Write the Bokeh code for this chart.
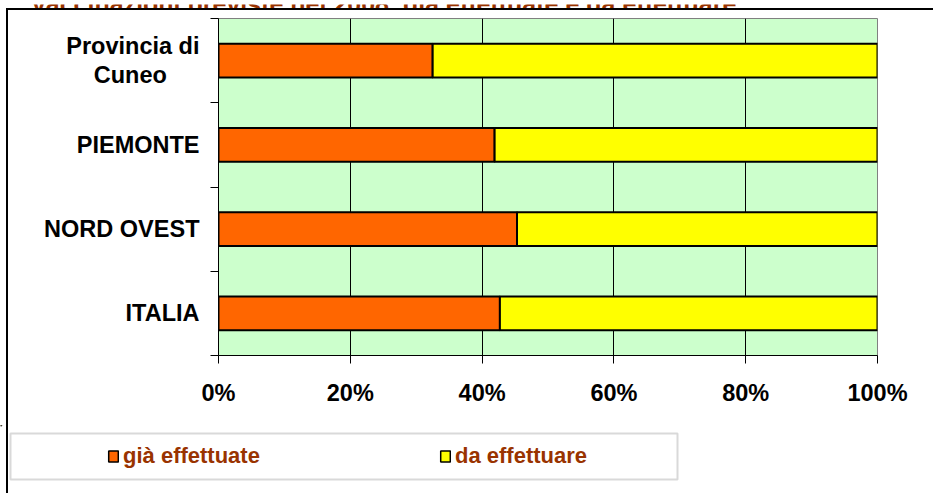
from bokeh.plotting import figure
from bokeh.layouts import column
from bokeh.models import (Range1d, FixedTicker, PrintfTickFormatter, ColumnDataSource,
                          Legend, LegendItem, Label, BoxAnnotation)
from bokeh.embed import file_html
from bokeh.resources import INLINE

# ---- data (bottom to top) ----
categories = ["ITALIA", "NORD OVEST", "PIEMONTE", "Provincia di\nCuneo"]
gia_effettuate = [42.7, 45.3, 41.9, 32.5]
da_effettuare = [57.3, 54.7, 58.1, 67.5]
series_names = ["già effettuate", "da effettuare"]
x_ticks = [0, 20, 40, 60, 80, 100]
title_text = "Vaccinazioni previste nel 2008, già effettuate e da effettuare"

FONT = "Liberation Sans"
ORANGE = "#FF6600"
YELLOW = "#FFFF00"
BROWN = "#993300"
NB = "\u00a0"
W = 933
LINE_BG = "linear-gradient(#000,#000) 6px 0px / 2px 100% no-repeat"

# ---------- title strip (cut off at the top, as in the reference) ----------
p0 = figure(width=W, height=8, x_range=Range1d(0, W), y_range=Range1d(8, 0),
            output_backend="svg", toolbar_location=None,
            x_axis_location=None, y_axis_location=None,
            min_border=0, outline_line_color=None,
            background_fill_alpha=0, border_fill_alpha=0)
p0.frame_align = False
p0.grid.visible = False
p0.add_layout(Label(x=30, y=-1, text=title_text,
                    text_font=FONT, text_font_style="bold", text_font_size="25px",
                    text_color=BROWN, text_baseline="alphabetic", text_align="left"))

# ---------- main chart ----------
ypos = list(range(len(categories)))
source = ColumnDataSource(dict(y=ypos, gia=gia_effettuate, da=da_effettuare))

p = figure(width=W, height=417,
           x_range=Range1d(0, 100), y_range=Range1d(-0.5, len(categories) - 0.5),
           output_backend="svg", toolbar_location=None,
           min_border_left=218, min_border_right=56,
           min_border_top=10, min_border_bottom=70,
           background_fill_color="#CCFFCC", border_fill_alpha=0,
           outline_line_color="#808080", outline_line_width=1)
p.frame_align = False
p.styles = {"background": LINE_BG + ", linear-gradient(#000,#000) 6px 0px / 100% 2px no-repeat, #fff"}

rs = p.hbar_stack(["gia", "da"], y="y", height=0.4, source=source,
                  color=[ORANGE, YELLOW], line_color="black", line_width=2)

xa = p.xaxis[0]
xa.ticker = FixedTicker(ticks=x_ticks)
xa.formatter = PrintfTickFormatter(format="%d%%")
xa.axis_line_color = "black"
xa.major_tick_line_color = "black"
xa.major_tick_out = 8
xa.major_tick_in = 0
xa.minor_tick_line_color = None
xa.major_label_text_font = FONT
xa.major_label_text_font_style = "bold"
xa.major_label_text_font_size = "23.5px"
xa.major_label_text_color = "black"
xa.major_label_standoff = 16

ya = p.yaxis[0]
ya.ticker = FixedTicker(ticks=ypos, minor_ticks=[i - 0.5 for i in range(len(categories) + 1)])
overrides = {}
for i, c in enumerate(categories):
    if "\n" in c:
        a, b = c.split("\n")
        overrides[i] = a + "\n" + b + NB * 5
    else:
        overrides[i] = c
ya.major_label_overrides = overrides
ya.axis_line_color = "black"
ya.major_tick_line_color = None
ya.minor_tick_line_color = "black"
ya.minor_tick_out = 8
ya.minor_tick_in = 0
ya.major_label_text_font = FONT
ya.major_label_text_font_style = "bold"
ya.major_label_text_font_size = "23.5px"
ya.major_label_text_color = "black"
ya.major_label_text_line_height = 1.12
ya.major_label_standoff = 11

p.xgrid.ticker = FixedTicker(ticks=[20, 40, 60, 80])
p.xgrid.grid_line_color = "black"
p.xgrid.grid_line_width = 1
p.ygrid.grid_line_color = None

# ---------- legend strip ----------
H2 = 68
p2 = figure(width=W, height=H2, x_range=Range1d(0, W), y_range=Range1d(H2, 0),
            output_backend="svg", toolbar_location=None,
            x_axis_location=None, y_axis_location=None,
            min_border=0, outline_line_color=None,
            background_fill_alpha=0, border_fill_alpha=0)
p2.frame_align = False
p2.styles = {"background": LINE_BG + ", #fff"}
p2.grid.visible = False
p2.add_layout(BoxAnnotation(left=10, right=677, top=8, bottom=54,
                            fill_color="white", fill_alpha=1,
                            line_color="#808080", line_width=2))
# legend swatch renderers (kept outside the visible range of this strip)
sw0 = p2.hbar(y=[-1000], right=[1], height=1, fill_color=ORANGE,
              line_color="black", line_width=1.5)
sw1 = p2.hbar(y=[-1000], right=[1], height=1, fill_color=YELLOW,
              line_color="black", line_width=1.5)
for sw, name, lx in [(sw0, series_names[0], 107), (sw1, series_names[1], 439)]:
    lg = Legend(items=[LegendItem(label=name, renderers=[sw])],
                location=(lx, 24), orientation="horizontal",
                border_line_color=None, background_fill_alpha=0,
                padding=0, spacing=0, margin=0,
                glyph_width=12, glyph_height=14, label_standoff=4, label_height=26,
                label_text_font=FONT, label_text_font_style="bold",
                label_text_font_size="22px", label_text_color=BROWN)
    p2.add_layout(lg)

layout = column(p0, p, p2, spacing=0)
layout.styles = {"background": "#fff"}
open("out.html", "w").write(file_html(layout, INLINE))
